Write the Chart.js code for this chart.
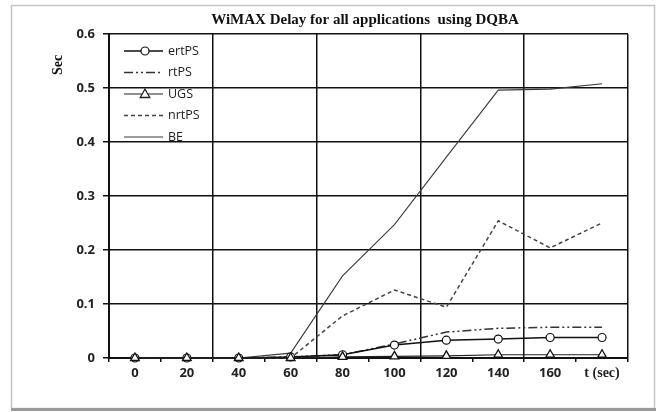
<!DOCTYPE html>
<html>
<head>
<meta charset="utf-8">
<script src="https://cdn.jsdelivr.net/npm/chart.js@4.4.0/dist/chart.umd.min.js"></script>
<style>
  html, body { margin: 0; padding: 0; background: #fff; }
  #wrap { width: 656px; height: 412px; }
</style>
</head>
<body>
<div id="wrap"><canvas id="delay-chart" width="656" height="412"></canvas></div>
<script>
// time axis (last category carries the axis caption)
const timeLabels = ['0', '20', '40', '60', '80', '100', '120', '140', '160', 't (sec)'];

// delay in seconds
const ertPS = [0, 0, 0, 0.002, 0.006, 0.024, 0.033, 0.035, 0.038, 0.038];
const rtPS  = [0, 0, 0, 0.002, 0.006, 0.026, 0.048, 0.055, 0.057, 0.057];
const UGS   = [0, 0, 0, 0, 0.002, 0.003, 0.004, 0.006, 0.006, 0.006];
const nrtPS = [0, 0, 0, 0, 0.078, 0.126, 0.094, 0.254, 0.204, 0.25];
const BE    = [0, 0, 0, 0.009, 0.152, 0.247, 0.372, 0.496, 0.498, 0.508];

const yTicks = [0, 0.1, 0.2, 0.3, 0.4, 0.5, 0.6];

const SANS = "'Open Sans', 'Liberation Sans', sans-serif";
const SERIF = "'Liberation Serif', 'DejaVu Serif', serif";

// frame, title, y caption and the in-plot legend
const decorPlugin = {
    id: 'decor',
    beforeDraw: function (chart) {
        const c = chart.ctx;
        c.save();
        c.fillStyle = '#fff';
        c.fillRect(0, 0, chart.width, chart.height);
        c.strokeStyle = '#c4c4c4';
        c.lineWidth = 1.5;
        c.strokeRect(11.5, 5.5, 643, 403);
        c.strokeStyle = '#9a9a9a';
        c.lineWidth = 3;
        c.beginPath();
        c.moveTo(11, 409.5);
        c.lineTo(656, 409.5);
        c.stroke();
        c.restore();
    },
    afterDraw: function (chart) {
        const c = chart.ctx;
        c.save();
        c.fillStyle = '#111';
        c.textAlign = 'center';
        c.textBaseline = 'middle';
        c.font = 'bold 15px ' + SERIF;
        c.fillText('WiMAX Delay for all applications  using DQBA', 365, 20);

        c.translate(58, 65);
        c.rotate(-Math.PI / 2);
        c.font = 'bold 14px ' + SERIF;
        c.fillText('Sec', 0, 0);
        c.restore();

        // legend
        c.save();
        chart.data.datasets.forEach((ds, i) => {
            const y = 51 + i * 21.5;
            c.strokeStyle = ds.borderColor;
            c.lineWidth = ds.borderWidth;
            c.setLineDash(ds.borderDash || []);
            c.beginPath();
            c.moveTo(124, y);
            c.lineTo(163, y);
            c.stroke();
            c.setLineDash([]);
            if (ds.pointRadius > 0) {
                c.fillStyle = '#fff';
                c.lineWidth = ds.pointBorderWidth;
                c.beginPath();
                const r = ds.pointRadius;
                if (ds.pointStyle === 'triangle') {
                    c.moveTo(145, y - r);
                    c.lineTo(145 + r * 0.95, y + r * 0.7);
                    c.lineTo(145 - r * 0.95, y + r * 0.7);
                    c.closePath();
                } else {
                    c.arc(145, y, r, 0, Math.PI * 2);
                }
                c.fill();
                c.stroke();
            }
            c.fillStyle = '#222';
            c.font = '12.5px ' + SANS;
            c.textAlign = 'left';
            c.textBaseline = 'middle';
            c.fillText(ds.label, 168, y);
        });
        c.restore();
    }
};

const lineDefaults = { tension: 0, fill: false, clip: false, pointHoverRadius: 0 };

new Chart(document.getElementById('delay-chart'), {
    type: 'line',
    data: {
        labels: timeLabels,
        datasets: [
            Object.assign({}, lineDefaults, {
                label: 'ertPS', data: ertPS,
                borderColor: '#111', borderWidth: 1.5,
                pointStyle: 'circle', pointRadius: 4, pointBorderWidth: 1.2,
                pointBackgroundColor: '#fff', pointBorderColor: '#111'
            }),
            Object.assign({}, lineDefaults, {
                label: 'rtPS', data: rtPS,
                borderColor: '#333', borderWidth: 1.5,
                borderDash: [9, 3, 2, 3, 2, 3],
                pointRadius: 0
            }),
            Object.assign({}, lineDefaults, {
                label: 'UGS', data: UGS, order: -1,
                borderColor: '#222', borderWidth: 1.2,
                pointStyle: 'triangle', pointRadius: 5, pointBorderWidth: 1.3,
                pointBackgroundColor: '#fff', pointBorderColor: '#111'
            }),
            Object.assign({}, lineDefaults, {
                label: 'nrtPS', data: nrtPS,
                borderColor: '#444', borderWidth: 1.5,
                borderDash: [4, 3],
                pointRadius: 0
            }),
            Object.assign({}, lineDefaults, {
                label: 'BE', data: BE,
                borderColor: '#3a3a3a', borderWidth: 1.1,
                pointRadius: 0
            })
        ]
    },
    options: {
        responsive: false,
        animation: false,
        events: [],
        layout: { padding: { top: 34, right: 28, left: 0, bottom: 0 } },
        plugins: {
            legend: { display: false },
            title: { display: false },
            tooltip: { enabled: false }
        },
        scales: {
            x: {
                type: 'category',
                offset: true,
                afterFit: (scale) => { scale.height = 54; },
                grid: {
                    offset: true,
                    lineWidth: 1.5,
                    color: (ctx) => (ctx.index === undefined || ctx.index % 2 === 0) ? '#111' : 'rgba(0,0,0,0)',
                    tickColor: '#111',
                    tickLength: 4,
                    drawTicks: true
                },
                border: { color: '#111', width: 2 },
                ticks: {
                    color: '#222',
                    padding: 3,
                    autoSkip: false,
                    maxRotation: 0,
                    font: (ctx) => (ctx.index === timeLabels.length - 1)
                        ? { family: SERIF, size: 14, weight: 'bold' }
                        : { family: SANS, size: 13, weight: 'bold' }
                }
            },
            y: {
                min: 0,
                max: 0.6,
                afterFit: (scale) => { scale.width = 109; },
                afterBuildTicks: (scale) => { scale.ticks = yTicks.map(v => ({ value: v })); },
                grid: {
                    color: '#111',
                    lineWidth: 1.5,
                    tickColor: '#111',
                    tickLength: 6
                },
                border: { color: '#111', width: 2 },
                ticks: {
                    color: '#222',
                    padding: 8,
                    font: { family: SANS, size: 13, weight: 'bold' },
                    callback: (v) => v === 0 ? '0' : Number(v).toFixed(1)
                }
            }
        }
    },
    plugins: [decorPlugin]
});
</script>
</body>
</html>
